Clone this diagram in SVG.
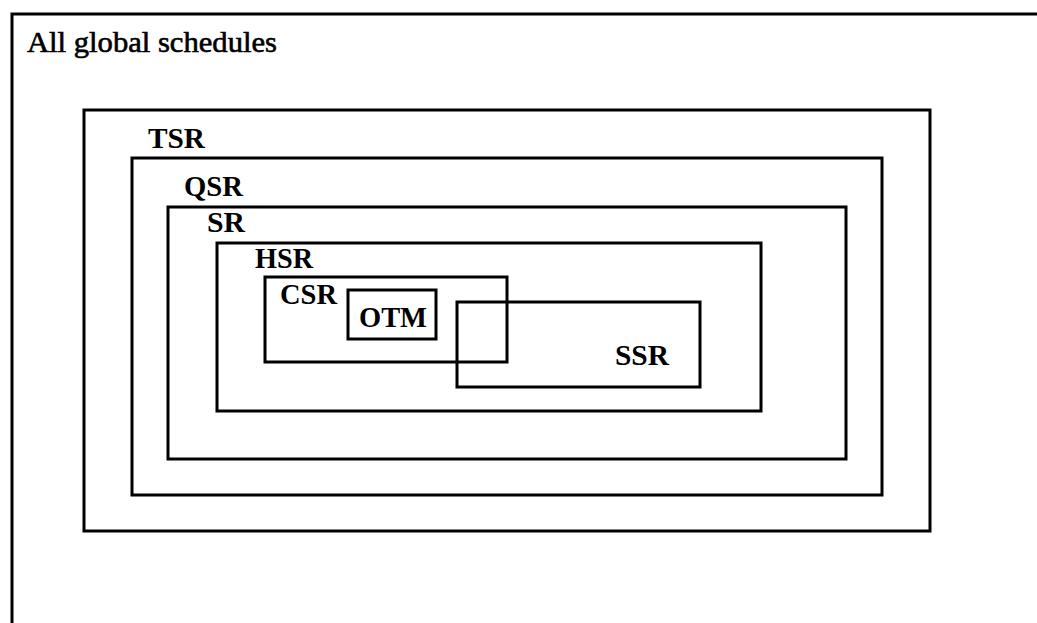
<svg xmlns="http://www.w3.org/2000/svg" width="1037" height="623" viewBox="0 0 1037 623">
<style>
.box{fill:none;stroke:#000;stroke-width:3}
.lbl{font-family:"Liberation Serif","Times New Roman",serif;font-size:30px;font-weight:bold;fill:#000}
.title{font-family:"Liberation Serif","Times New Roman",serif;font-size:29px;fill:#000;stroke:#000;stroke-width:0.6}
</style>
<rect width="1037" height="623" fill="#fff"/>
<g id="all">
<path class="box" d="M1037,14 H12 V623"/>
<text class="title" x="27" y="52" textLength="250" lengthAdjust="spacingAndGlyphs">All global schedules</text>
</g>
<g id="tsr">
<rect class="box" x="84" y="110" width="846" height="421"/>
<text class="lbl" x="148" y="148" textLength="57" lengthAdjust="spacingAndGlyphs">TSR</text>
</g>
<g id="qsr">
<rect class="box" x="132" y="158" width="750" height="337"/>
<text class="lbl" x="184" y="196" textLength="59" lengthAdjust="spacingAndGlyphs">QSR</text>
</g>
<g id="sr">
<rect class="box" x="168" y="207" width="678" height="252"/>
<text class="lbl" x="207" y="232" textLength="38" lengthAdjust="spacingAndGlyphs">SR</text>
</g>
<g id="hsr">
<rect class="box" x="217" y="243" width="544" height="168"/>
<text class="lbl" x="255" y="268" textLength="58" lengthAdjust="spacingAndGlyphs">HSR</text>
</g>
<g id="csr">
<rect class="box" x="265" y="277" width="242" height="85"/>
<text class="lbl" x="280" y="304" textLength="57" lengthAdjust="spacingAndGlyphs">CSR</text>
</g>
<g id="otm">
<rect class="box" x="348" y="290" width="88" height="49"/>
<text class="lbl" x="359" y="327" textLength="68" lengthAdjust="spacingAndGlyphs">OTM</text>
</g>
<g id="ssr">
<rect class="box" x="457" y="302" width="243" height="85"/>
<text class="lbl" x="615" y="365" textLength="54" lengthAdjust="spacingAndGlyphs">SSR</text>
</g>
</svg>
